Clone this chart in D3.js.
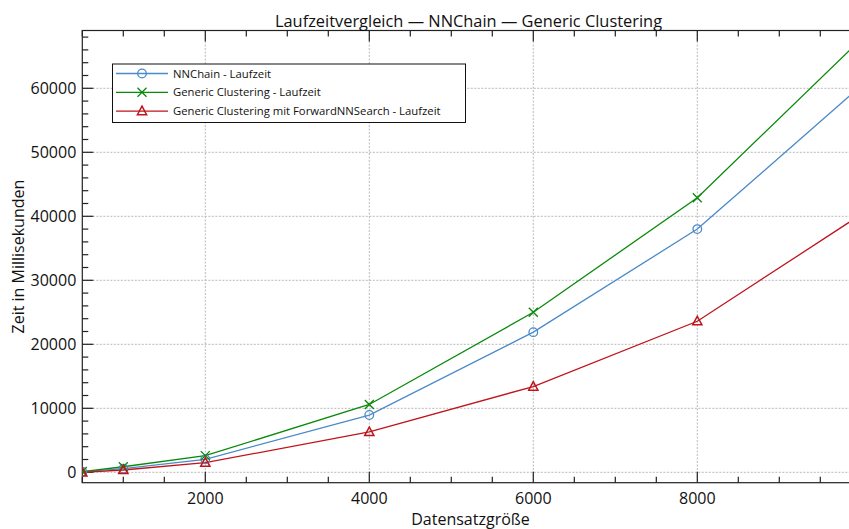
<!DOCTYPE html>
<html><head><meta charset="utf-8">
<script src="https://cdn.jsdelivr.net/npm/d3@7"></script>
<style>body{margin:0;background:#fff;overflow:hidden}svg{display:block;font-family:"Open Sans",sans-serif}</style>
</head><body>
<svg id="c" width="849" height="529"></svg>
<script>
const sizes = [500, 1000, 2000, 4000, 6000, 8000, 10000];
const nnchain = [100, 560, 2030, 8950, 21900, 38000, 60400];
const generic = [120, 870, 2600, 10600, 25000, 42900, 67700];
const forwardNN = [0, 360, 1500, 6300, 13400, 23600, 40300];
const seriesNames = ["NNChain - Laufzeit", "Generic Clustering - Laufzeit", "Generic Clustering mit ForwardNNSearch - Laufzeit"];
const seriesColors = ["#4a8ac9", "#0a8a0a", "#c0141c"];
const markers = ["circle", "cross", "triangle"];
const xMajor = [2000, 4000, 6000, 8000];
const yMajor = [0, 10000, 20000, 30000, 40000, 50000, 60000];
const title = "Laufzeitvergleich — NNChain — Generic Clustering";
const xTitle = "Datensatzgröße";
const yTitle = "Zeit in Millisekunden";

const svg = d3.select("#c");
const L = 82.3, R = 861.3, T = 30.5, B = 482.7;
const x = d3.scaleLinear().domain([500, 10000]).range([L, R]);
const y = d3.scaleLinear().domain([-1625, 69030]).range([B, T]);

const xMinor = d3.range(500, 10001, 500);
const yMinor = d3.range(0, 69001, 2000);

// grid
const grid = svg.append("g").attr("stroke", "#b8b8b8").attr("stroke-width", 1).attr("stroke-dasharray", "2,1.5");
grid.selectAll("line.gx").data(xMajor).join("line").attr("x1", d => x(d)).attr("x2", d => x(d)).attr("y1", T).attr("y2", B);
grid.selectAll("line.gy").data(yMajor).join("line").attr("y1", d => y(d)).attr("y2", d => y(d)).attr("x1", L).attr("x2", R);

// axes with inward ticks
const axColor = "#222";
function tickLen(isMajor){ return isMajor ? 11 : 6; }
const ax = svg.append("g").attr("stroke", axColor).attr("stroke-width", 1.2);
xMinor.forEach(v => {
  const l = tickLen(xMajor.includes(v));
  ax.append("line").attr("x1", x(v)).attr("x2", x(v)).attr("y1", B).attr("y2", B - l);
  ax.append("line").attr("x1", x(v)).attr("x2", x(v)).attr("y1", T).attr("y2", T + l);
});
yMinor.forEach(v => {
  const l = tickLen(yMajor.includes(v));
  ax.append("line").attr("y1", y(v)).attr("y2", y(v)).attr("x1", L).attr("x2", L + l);
  ax.append("line").attr("y1", y(v)).attr("y2", y(v)).attr("x1", R).attr("x2", R - l);
});
ax.append("rect").attr("x", L).attr("y", T).attr("width", R - L).attr("height", B - T).attr("fill", "none");

// tick labels
svg.append("g").selectAll("text").data(xMajor).join("text")
  .attr("x", d => x(d)).attr("y", B + 21).attr("text-anchor", "middle")
  .attr("font-size", 16).attr("fill", "#111").text(d => d);
svg.append("g").selectAll("text").data(yMajor).join("text")
  .attr("x", L - 6).attr("y", d => y(d)).attr("dy", "0.36em").attr("text-anchor", "end")
  .attr("font-size", 16).attr("fill", "#111").text(d => d);

// titles
svg.append("text").attr("x", 468.5).attr("y", 26.5).attr("text-anchor", "middle").attr("font-size", 16.4).attr("fill", "#111").text(title);
svg.append("text").attr("x", 470.5).attr("y", 525).attr("text-anchor", "middle").attr("font-size", 16).attr("fill", "#111").text(xTitle);
svg.append("text").attr("transform", `translate(24,${(T + B) / 2}) rotate(-90)`).attr("text-anchor", "middle").attr("font-size", 16).attr("fill", "#111").text(yTitle);

// clip
svg.append("clipPath").attr("id", "pc").append("rect").attr("x", L).attr("y", T).attr("width", R - L).attr("height", B - T);
const plot = svg.append("g").attr("clip-path", "url(#pc)");

function drawMarker(g, type, cx, cy, color, s) {
  if (type === "circle") {
    g.append("circle").attr("cx", cx).attr("cy", cy).attr("r", 4.3).attr("fill", "none").attr("stroke", color).attr("stroke-width", 1.3);
  } else if (type === "cross") {
    g.append("path").attr("d", `M${cx-s},${cy-s}L${cx+s},${cy+s}M${cx-s},${cy+s}L${cx+s},${cy-s}`).attr("stroke", color).attr("stroke-width", 1.3).attr("fill", "none");
  } else {
    g.append("path").attr("d", `M${cx},${cy-5}L${cx+4.6},${cy+3.6}L${cx-4.6},${cy+3.6}Z`).attr("fill", "none").attr("stroke", color).attr("stroke-width", 1.5);
  }
}

const allSeries = [nnchain, generic, forwardNN];
const line = d3.line().x(d => x(d[0])).y(d => y(d[1]));
allSeries.forEach((vals, i) => {
  const pts = sizes.map((s, j) => [s, vals[j]]);
  plot.append("path").attr("d", line(pts)).attr("fill", "none").attr("stroke", seriesColors[i]).attr("stroke-width", 1.3);
});
allSeries.forEach((vals, i) => {
  sizes.forEach((s, j) => drawMarker(plot, markers[i], x(s), y(vals[j]), seriesColors[i], 4.5));
});

// legend
const lg = svg.append("g");
lg.append("rect").attr("x", 112.5).attr("y", 64).attr("width", 353).attr("height", 58.5).attr("fill", "#fff").attr("stroke", "#111").attr("stroke-width", 1);
seriesNames.forEach((n, i) => {
  const yy = 73.5 + i * 18.8;
  lg.append("line").attr("x1", 116).attr("x2", 168).attr("y1", yy).attr("y2", yy).attr("stroke", seriesColors[i]).attr("stroke-width", 1.3);
  drawMarker(lg, markers[i], 142, yy, seriesColors[i], 4.5);
  lg.append("text").attr("x", 173).attr("y", yy).attr("dy", "0.36em").attr("font-size", 11.3).attr("fill", "#111").text(n);
});
</script>
</body></html>
